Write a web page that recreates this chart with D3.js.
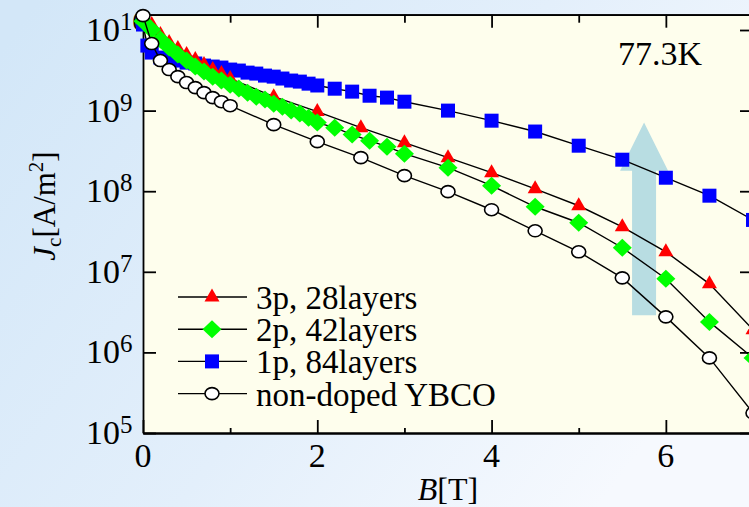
<!DOCTYPE html>
<html><head><meta charset="utf-8">
<script src="https://cdn.jsdelivr.net/npm/d3@7"></script>
<style>body{margin:0;overflow:hidden;background:#fff} svg{display:block}</style>
</head><body><svg id="c" width="749" height="507"></svg>
<script>
// ---- data (B in tesla, Jc in A/m^2) ----
const b3p  = [0,0.1,0.2,0.3,0.4,0.5,0.6,0.7,0.8,0.9,1.0,1.5,2.0,2.5,3.0,3.5,4.0,4.5,5.0,5.5,6.0,6.5,7.0];
const jc3p = [1.35e10,1.17e10,8.79e9,7.00e9,5.89e9,4.96e9,4.31e9,3.73e9,3.23e9,2.88e9,2.50e9,1.49e9,9.73e8,6.15e8,4.00e8,2.61e8,1.70e8,1.07e8,6.60e7,3.62e7,1.77e7,7.09e6,1.91e6];

const b2p  = [0,0.1,0.2,0.3,0.4,0.5,0.6,0.7,0.8,0.9,1.0,1.1,1.2,1.3,1.4,1.5,1.6,1.7,1.8,1.9,2.0,2.2,2.4,2.6,2.8,3.0,3.5,4.0,4.5,5.0,5.5,6.0,6.5,7.0];
const jc2p = [1.28e10,1.01e10,7.62e9,6.07e9,4.96e9,4.18e9,3.52e9,3.05e9,2.64e9,2.36e9,2.10e9,1.88e9,1.67e9,1.49e9,1.37e9,1.22e9,1.12e9,1.0e9,9.18e8,8.18e8,7.10e8,6.15e8,5.04e8,4.24e8,3.57e8,2.92e8,1.96e8,1.17e8,6.41e7,4.06e7,1.99e7,8.19e6,2.39e6,8.55e5];

const b1p  = [0,0.05,0.1,0.2,0.3,0.4,0.5,0.6,0.7,0.8,0.9,1.0,1.1,1.2,1.3,1.4,1.5,1.6,1.7,1.8,1.9,2.0,2.2,2.4,2.6,2.8,3.0,3.5,4.0,4.5,5.0,5.5,6.0,6.5,7.0];
const jc1p = [1.17e10,6.41e9,5.25e9,4.55e9,4.31e9,4.18e9,3.94e9,3.84e9,3.62e9,3.52e9,3.42e9,3.23e9,3.14e9,2.96e9,2.88e9,2.72e9,2.64e9,2.50e9,2.36e9,2.29e9,2.16e9,2.05e9,1.87e9,1.72e9,1.53e9,1.45e9,1.29e9,1.0e9,7.5e8,5.5e8,3.67e8,2.46e8,1.47e8,8.8e7,4.4e7];

const bNd  = [0,0.1,0.2,0.3,0.4,0.5,0.6,0.7,0.8,0.9,1.0,1.5,2.0,2.5,3.0,3.5,4.0,4.5,5.0,5.5,6.0,6.5,7.0];
const jcNd = [1.51e10,6.79e9,4.18e9,3.23e9,2.64e9,2.23e9,1.93e9,1.67e9,1.45e9,1.29e9,1.15e9,6.70e8,4.12e8,2.61e8,1.56e8,9.87e7,5.89e7,3.23e7,1.77e7,8.41e6,2.76e6,8.55e5,1.77e5];

const seriesNames = ["3p, 28layers","2p, 42layers","1p, 84layers","non-doped YBCO"];
const xTickValues = [0,2,4,6];
const xMinorValues = [1,3,5,7];
const yTickExponents = [5,6,7,8,9,10];
const arrowB = 5.75, arrowFromJ = 2.9e6, arrowHeadJ = 1.8e8, arrowTipJ = 7.1e8;
const tempLabel = "77.3K";

// ---- layout ----
const svg = d3.select("#c");
const x = d3.scaleLinear().domain([0,7]).range([143,753]);
const y = d3.scaleLog().domain([1e5, Math.pow(10,10.19)]).range([433,14.7]);
const serif = "'Liberation Serif','Times New Roman',serif";

const defs = svg.append("defs");
const g1 = defs.append("linearGradient").attr("id","bg").attr("x1","0").attr("y1","0.1").attr("x2","1").attr("y2","0.6");
g1.append("stop").attr("offset","0").attr("stop-color","#d3e7f8");
g1.append("stop").attr("offset","0.55").attr("stop-color","#e3effb");
g1.append("stop").attr("offset","1").attr("stop-color","#f6f9fe");
svg.append("rect").attr("width",749).attr("height",507).attr("fill","url(#bg)");

// plot area
svg.append("rect").attr("x",x(0)).attr("y",y.range()[1]).attr("width",x(7)-x(0)).attr("height",y.range()[0]-y.range()[1])
  .attr("fill","#fefeed");

// y tick labels (drawn under the data)
const yLab = svg.append("g").attr("font-family",serif).attr("fill","#000");
yTickExponents.forEach(e=>{
  const t = yLab.append("text").attr("x",86).attr("y",y(Math.pow(10,e))+11).attr("font-size",34);
  t.append("tspan").text("10");
  t.append("tspan").attr("dy",-11).attr("font-size",25).text(e);
});

// arrow annotation
const ax = x(arrowB);
svg.append("path").attr("fill","#b8dde2").attr("d",
  `M${ax-12},${y(arrowFromJ)}L${ax-12},${y(arrowHeadJ)}L${ax-24},${y(arrowHeadJ)}L${ax},${y(arrowTipJ)}L${ax+24},${y(arrowHeadJ)}L${ax+12},${y(arrowHeadJ)}L${ax+12},${y(arrowFromJ)}Z`);

// axes
const axisStyle = g => { g.selectAll("path,line").attr("stroke","#000").attr("stroke-width",1.8); g.selectAll("text").remove(); };
svg.append("g").attr("transform",`translate(0,433)`).call(d3.axisBottom(x).tickValues(xTickValues).tickSize(-13).tickSizeOuter(0)).call(axisStyle);
svg.append("g").attr("transform",`translate(0,433)`).call(d3.axisBottom(x).tickValues(xMinorValues).tickSize(-5).tickSizeOuter(0)).call(axisStyle);
svg.append("g").attr("transform",`translate(0,${y.range()[1]})`).call(d3.axisTop(x).tickValues(xTickValues).tickSize(-13).tickSizeOuter(0)).call(axisStyle);
svg.append("g").attr("transform",`translate(0,${y.range()[1]})`).call(d3.axisTop(x).tickValues(xMinorValues).tickSize(-8).tickSizeOuter(0)).call(axisStyle);
const yTicks = yTickExponents.map(e=>Math.pow(10,e));
svg.append("g").attr("transform",`translate(${x(0)},0)`).call(d3.axisLeft(y).tickValues(yTicks).tickSize(-13).tickSizeOuter(0)).call(axisStyle);
svg.append("g").attr("transform",`translate(${x(7)},0)`).call(d3.axisRight(y).tickValues(yTicks).tickSize(-13).tickSizeOuter(0)).call(axisStyle);

// x tick labels
svg.append("g").selectAll("text").data(xTickValues).join("text")
  .attr("x",d=>x(d)).attr("y",467).attr("text-anchor","middle").attr("font-family",serif).attr("font-size",34).text(d=>d);

// markers
const markers = {
  tri: {d:"M0,-8.5L7.5,4.5L-7.5,4.5Z", fill:"#ff0000", stroke:"none"},
  dia: {d:"M0,-9L9.5,0L0,9L-9.5,0Z", fill:"#00ff00", stroke:"none"},
  sq:  {d:"M-7,-7H7V7H-7Z", fill:"#0000ff", stroke:"none"},
  circ:{d:"M-7,0A7,6 0 1,0 7,0A7,6 0 1,0 -7,0Z", fill:"#ffffff", stroke:"#000"}
};
const series = [
  {b:b1p, j:jc1p, m:"sq"},
  {b:b3p, j:jc3p, m:"tri"},
  {b:b2p, j:jc2p, m:"dia"},
  {b:bNd, j:jcNd, m:"circ"}
];
const line = d3.line().x(d=>x(d[0])).y(d=>y(d[1]));
series.forEach(s=>{
  const pts = s.b.map((b,i)=>[b,s.j[i]]);
  const g = svg.append("g");
  g.append("path").attr("d",line(pts)).attr("fill","none").attr("stroke","#000").attr("stroke-width",1.4);
  const mk = markers[s.m];
  g.selectAll("path.m").data(pts).join("path").attr("class","m")
    .attr("transform",d=>`translate(${x(d[0])},${y(d[1])})`)
    .attr("d",mk.d).attr("fill",mk.fill).attr("stroke",mk.stroke).attr("stroke-width",1.6);
});

// legend
const legMarks = ["tri","dia","sq","circ"];
const leg = svg.append("g");
seriesNames.forEach((n,i)=>{
  const ly = 297 + i*32.2;
  leg.append("line").attr("x1",178).attr("x2",247).attr("y1",ly).attr("y2",ly).attr("stroke","#000").attr("stroke-width",1.4);
  const mk = markers[legMarks[i]];
  leg.append("path").attr("transform",`translate(212,${ly})`).attr("d",mk.d).attr("fill",mk.fill).attr("stroke",mk.stroke).attr("stroke-width",1.6);
  leg.append("text").attr("x",256).attr("y",ly+12).attr("font-family",serif).attr("font-size",33).text(n);
});

// temperature label
svg.append("text").attr("x",618).attr("y",65).attr("font-family",serif).attr("font-size",34).text(tempLabel);

// axis titles
const xt = svg.append("text").attr("x",448).attr("y",500).attr("text-anchor","middle").attr("font-family",serif).attr("font-size",32);
xt.append("tspan").attr("font-style","italic").text("B");
xt.append("tspan").text("[T]");

const yt = svg.append("text").attr("transform","translate(55,206) rotate(-90)").attr("text-anchor","middle").attr("font-family",serif).attr("font-size",31);
yt.append("tspan").attr("font-style","italic").text("J");
yt.append("tspan").attr("font-size",21).attr("dy",6).text("c");
yt.append("tspan").attr("dy",-6).text("[A/m");
yt.append("tspan").attr("font-size",21).attr("dy",-12).text("2");
yt.append("tspan").attr("dy",12).text("]");

// fragment of the next figure at the bottom edge
svg.append("text").attr("x",85).attr("y",522).attr("font-family",serif).attr("font-size",24).text("0");
</script></body></html>
